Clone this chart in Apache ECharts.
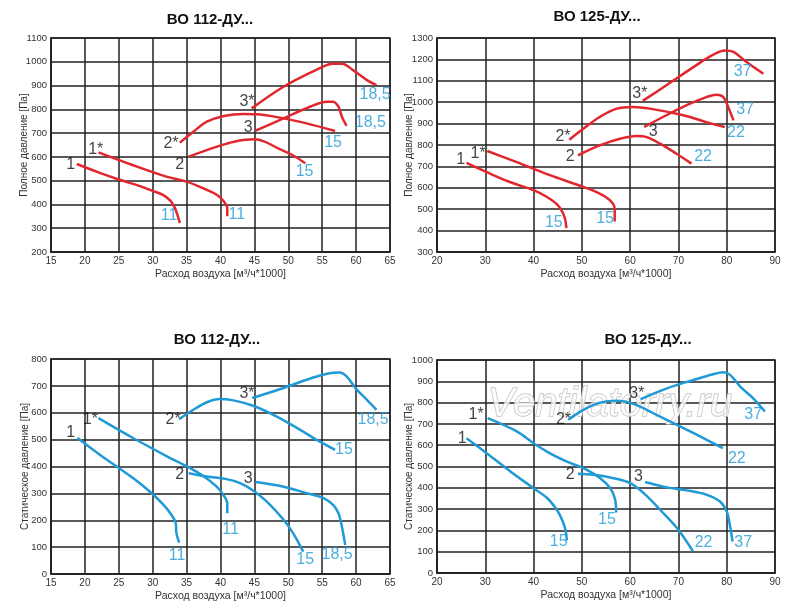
<!DOCTYPE html>
<html><head><meta charset="utf-8">
<script src="https://cdn.jsdelivr.net/npm/echarts@6/dist/echarts.min.js"></script>
<style>html,body{margin:0;padding:0;background:#fff}#c{width:800px;height:610px}</style>
</head><body><div id="c"></div>
<script>
// ---------- Panel 1: ВО 112-ДУ... total pressure ----------
var p1_c1 = [[18.8,570],[22,535],[25,505],[28,478],[30,457],[31.5,440],[32.6,416],[33.2,390],[33.6,360],[34,322]];
var p1_c1s = [[22.0,619],[27,566],[32,517],[35,496],[38,461],[39.5,440],[40.5,412],[41,385],[41,350]];
var p1_c2 = [[35.3,601],[39.5,643],[42,664],[45,674],[46.5,664],[48.5,636],[50.6,608],[52.5,573]];
var p1_c2s = [[34,660],[36,706],[38,748],[40.5,772],[43.4,780],[45.3,779],[49.3,762],[52.7,741],[56.9,709]];
var p1_c3 = [[45.1,709],[49.3,762],[53.2,811],[55.7,832],[56.6,832],[57.4,811],[57.9,769],[58.6,730]];
var p1_c3s = [[44.6,804],[49.3,895],[54.2,967],[56.6,992],[57.9,992],[59.6,964],[61.6,923],[63,902]];
var p1_lblK = [[17.9,566,'1'],[21.6,632,'1*'],[34.0,566,'2'],[32.7,654,'2*'],[44.1,723,'3'],[43.9,832,'3*']];
var p1_lblB = [[32.4,352,'11'],[42.4,357,'11'],[52.4,538,'15'],[56.6,660,'15'],[62.1,744,'18,5'],[62.8,860,'18,5']];

// ---------- Panel 2: ВО 125-ДУ... total pressure ----------
var p2_c1 = [[26.1,716],[30.2,674],[35.1,627],[40,589],[42.7,558],[44.7,526],[45.8,495],[46.5,456],[46.8,412]];
var p2_c1s = [[30.4,772],[36.4,721],[43.4,659],[50.3,604],[53.7,573],[55.8,542],[56.8,503],[56.8,443]];
var p2_c2 = [[49.2,752],[53.7,798],[57.9,829],[61.3,842],[63.4,837],[66.2,806],[69.6,759],[72.7,713]];
var p2_c2s = [[47.4,825],[50.3,876],[53.7,931],[57.2,970],[60.6,978],[64.1,970],[71,939],[75.8,907],[79.6,884]];
var p2_c3 = [[62.9,884],[67.5,939],[72.4,993],[75.8,1024],[77.9,1035],[79.3,1024],[80.3,978],[81.4,915]];
var p2_c3s = [[62.6,1006],[67.5,1079],[73.1,1164],[77.2,1222],[79.6,1242],[81.4,1235],[84.1,1188],[87.6,1133]];
var p2_lblK = [[24.9,732,'1'],[28.5,760,'1*'],[47.6,745,'2'],[46.1,838,'2*'],[64.8,864,'3'],[62.0,1040,'3*']];
var p2_lblB = [[44.2,436,'15'],[54.8,456,'15'],[75.1,745,'22'],[81.9,858,'22'],[83.8,967,'37'],[83.3,1143,'37']];

// ---------- Panel 3: ВО 112-ДУ... static pressure ----------
var p3_c1 = [[18.9,506],[22.2,444],[27.1,357],[30.1,295],[31.6,257],[32.6,226],[33.4,189],[33.5,152],[33.9,117]];
var p3_c1s = [[22,580],[27.1,506],[32.1,438],[35,401],[37.5,364],[39.4,326],[40.4,295],[41,263],[41,226]];
var p3_c2 = [[35.3,375],[38,363],[40.9,353],[42.9,338],[44.8,311],[46.8,270],[49.3,202],[50.7,152],[52.2,83]];
var p3_c2s = [[33.9,576],[36,611],[38,639],[39.9,651],[41.9,646],[44.8,626],[48.3,586],[51.7,537],[54.2,499],[56.9,462]];
var p3_c3 = [[45.2,342],[49.3,325],[52.7,301],[55.2,282],[56.6,257],[57.4,226],[57.9,177],[58.4,108]];
var p3_c3s = [[44.7,655],[49.3,692],[52.7,723],[55.7,745],[57.6,750],[58.6,735],[60.1,686],[61.6,648],[63,611]];
var p3_lblK = [[17.9,527,'1'],[20.8,574,'1*'],[34.0,369,'2'],[33.0,575,'2*'],[44.1,354,'3'],[43.9,670,'3*']];
var p3_lblB = [[33.6,67,'11'],[41.5,164,'11'],[52.5,52,'15'],[58.2,462,'15'],[57.2,71,'18,5'],[62.5,574,'18,5']];

// ---------- Panel 4: ВО 125-ДУ... static pressure ----------
var p4_c1 = [[26.1,633],[30.3,562],[35.2,477],[40,398],[42.8,352],[44.8,297],[45.9,250],[46.6,203],[46.9,153]];
var p4_c1s = [[30.5,727],[36.6,664],[40,609],[43.4,562],[46.9,523],[50.3,492],[53.8,445],[55.9,398],[56.9,344],[57.1,284]];
var p4_c2 = [[49.2,466],[52.4,461],[56.6,445],[60,422],[62.8,375],[66.2,297],[69.7,211],[73,102]];
var p4_c2s = [[47.2,719],[50.3,766],[53.8,800],[57.2,809],[60.7,794],[64.8,750],[69.7,695],[74.5,641],[79.2,586]];
var p4_c3 = [[63.1,427],[67.6,402],[71.7,388],[75.9,367],[78.6,336],[80,289],[80.7,219],[81.2,148]];
var p4_c3s = [[62.2,816],[67.6,867],[73.1,906],[77.2,933],[79.3,942],[80.7,930],[82.8,875],[85.5,820],[87.9,758]];
var p4_lblK = [[25.2,633,'1'],[28.1,742,'1*'],[47.6,461,'2'],[46.2,722,'2*'],[61.7,453,'3'],[61.4,841,'3*']];
var p4_lblB = [[45.2,148,'15'],[55.2,253,'15'],[75.2,144,'22'],[82.1,539,'22'],[83.4,144,'37'],[85.5,742,'37']];

var titles = ['ВО 112-ДУ...','ВО 125-ДУ...','ВО 112-ДУ...','ВО 125-ДУ...'];
var xName = 'Расход воздуха [м³/ч*1000]';
var yNames = ['Полное давление [Па]','Полное давление [Па]','Статическое давление [Па]','Статическое давление [Па]'];
var xRanges = [[15,65,5],[20,90,10],[15,65,5],[20,90,10]];
var yRanges = [[200,1100,100],[300,1300,100],[0,800,100],[0,1000,100]];

var RED = '#e2262e', BLUE = '#1f9ad6', GRIDC = '#222';
var NARROW = "'Liberation Sans Narrow','Arial Narrow','Liberation Sans',Arial,sans-serif";

var grids = [
  {left:51, top:38, width:339, height:214},
  {left:437, top:38, width:338, height:214},
  {left:51, top:359, width:339, height:215},
  {left:437, top:360, width:338, height:213}
];
var yNameGaps = [22, 23, 21, 23];
var panels = [
  {curves:[p1_c1,p1_c1s,p1_c2,p1_c2s,p1_c3,p1_c3s], k:p1_lblK, b:p1_lblB, color:RED},
  {curves:[p2_c1,p2_c1s,p2_c2,p2_c2s,p2_c3,p2_c3s], k:p2_lblK, b:p2_lblB, color:RED},
  {curves:[p3_c1,p3_c1s,p3_c2,p3_c2s,p3_c3,p3_c3s], k:p3_lblK, b:p3_lblB, color:BLUE},
  {curves:[p4_c1,p4_c1s,p4_c2,p4_c2s,p4_c3,p4_c3s], k:p4_lblK, b:p4_lblB, color:BLUE}
];
var titlePos = [[210,20],[597,17],[217,340],[648,340]];

function plain(v){ return String(v); }
var xAxes = [], yAxes = [], series = [], gridOpts = [];
grids.forEach(function(g, i){
  gridOpts.push(Object.assign({show:true, borderColor:GRIDC, borderWidth:1.5, containLabel:false}, g));
  xAxes.push({type:'value', gridIndex:i, min:xRanges[i][0], max:xRanges[i][1], interval:xRanges[i][2],
    name:xName, nameLocation:'middle', nameGap:17, nameMoveOverlap:false,
    nameTextStyle:{fontFamily:NARROW, fontSize:10.5, color:'#333'},
    axisLine:{show:true, lineStyle:{color:GRIDC, width:1.5}}, axisTick:{show:false},
    axisLabel:{fontFamily:NARROW, fontSize:10, color:'#333', margin:4, formatter:plain},
    splitLine:{show:true, lineStyle:{color:GRIDC, width:1.5}}});
  yAxes.push({type:'value', gridIndex:i, min:yRanges[i][0], max:yRanges[i][1], interval:yRanges[i][2],
    name:yNames[i], nameLocation:'middle', nameGap:yNameGaps[i], nameRotate:90, nameMoveOverlap:false,
    nameTextStyle:{fontFamily:NARROW, fontSize:10, color:'#333'},
    axisLine:{show:true, lineStyle:{color:GRIDC, width:1.5}}, axisTick:{show:false},
    axisLabel:{fontFamily:NARROW, fontSize:9.5, color:'#333', margin:4, formatter:plain},
    splitLine:{show:true, lineStyle:{color:GRIDC, width:1.5}}});
  var p = panels[i];
  p.curves.forEach(function(c){
    series.push({type:'line', xAxisIndex:i, yAxisIndex:i, data:c, smooth:0.35, symbol:'none',
      lineStyle:{color:p.color, width:2.5}, z:3, silent:true});
  });
  [[p.k,'#111'],[p.b,'#1f9ad6']].forEach(function(pair){
    series.push({type:'scatter', xAxisIndex:i, yAxisIndex:i, data:pair[0], symbolSize:1,
      itemStyle:{color:'rgba(0,0,0,0)'}, z:4, silent:true,
      label:{show:true, position:'inside', formatter:function(d){return d.data[2];},
        fontFamily:NARROW, fontSize:16, color:pair[1]}});
  });
});

var graphics = titles.map(function(t, i){
  return {type:'text', x:titlePos[i][0], y:titlePos[i][1], z:10,
    style:{text:t, textAlign:'center', textVerticalAlign:'middle',
      font:"bold 15px 'Liberation Sans', Arial, sans-serif", fill:'#111'}};
});
graphics.push({type:'text', x:610, y:405, z:1,
  style:{text:'Ventilatorry.ru', textAlign:'center', textVerticalAlign:'middle',
    font:"italic 40px 'Liberation Sans', Arial, sans-serif", fill:'rgba(255,255,255,0.75)', stroke:'#c4c4c4', lineWidth:1.3}});

var chart = echarts.init(document.getElementById('c'), null, {renderer:'canvas'});
chart.setOption({animation:false, backgroundColor:'#fff', grid:gridOpts, xAxis:xAxes, yAxis:yAxes,
  series:series, graphic:graphics});
</script></body></html>
